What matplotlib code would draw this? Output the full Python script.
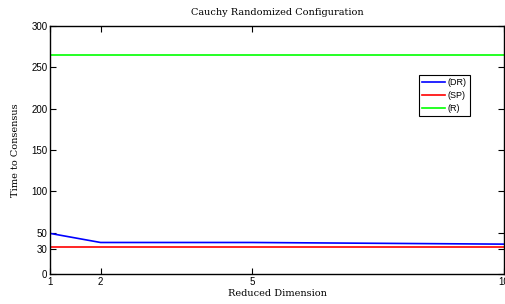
import matplotlib
matplotlib.use("Agg")
import matplotlib.pyplot as plt

# reduced dimension values and time to consensus per method
dims = [1, 2, 5, 10]
time_dr = [49, 38, 38, 36]
time_sp = [33, 33, 33, 33]
time_r = [265, 265, 265, 265]

xticks = [1, 2, 5, 10]
yticks = [0, 30, 50, 100, 150, 200, 250, 300]

fig = plt.figure(figsize=(5.06, 3.04), dpi=100)
ax = fig.add_axes([0.099, 0.099, 0.897, 0.816])

ax.plot(dims, time_dr, color=(0, 0, 1), lw=1.2, label='(DR)')
ax.plot(dims, time_sp, color=(1, 0, 0), lw=1.2, label='(SP)')
ax.plot(dims, time_r, color=(0, 1, 0), lw=1.2, label='(R)')

ax.set_xlim(1, 10)
ax.set_ylim(0, 300)
ax.set_xticks(xticks)
ax.set_yticks(yticks)
ax.tick_params(direction='in', top=True, right=True, length=4, width=0.8,
               labelsize=7, pad=2)
for lbl in ax.get_xticklabels() + ax.get_yticklabels():
    lbl.set_family('Liberation Sans')
for s in ax.spines.values():
    s.set_linewidth(1.0)

ax.set_title('Cauchy Randomized Configuration', family='DejaVu Serif',
             fontsize=7, pad=8)
ax.set_xlabel('Reduced Dimension', family='DejaVu Serif', fontsize=7, labelpad=2)
ax.set_ylabel('Time to Consensus', family='DejaVu Serif', fontsize=7, labelpad=8)

leg = ax.legend(loc='upper left', bbox_to_anchor=(0.813, 0.802),
                prop={'family': 'Liberation Sans', 'size': 6.5},
                fancybox=False, framealpha=1, edgecolor='black',
                borderpad=0.35, labelspacing=0.45, handlelength=2.5,
                handletextpad=0.3, borderaxespad=0)
leg.get_frame().set_linewidth(0.8)

fig.savefig('out.png', dpi=100)
